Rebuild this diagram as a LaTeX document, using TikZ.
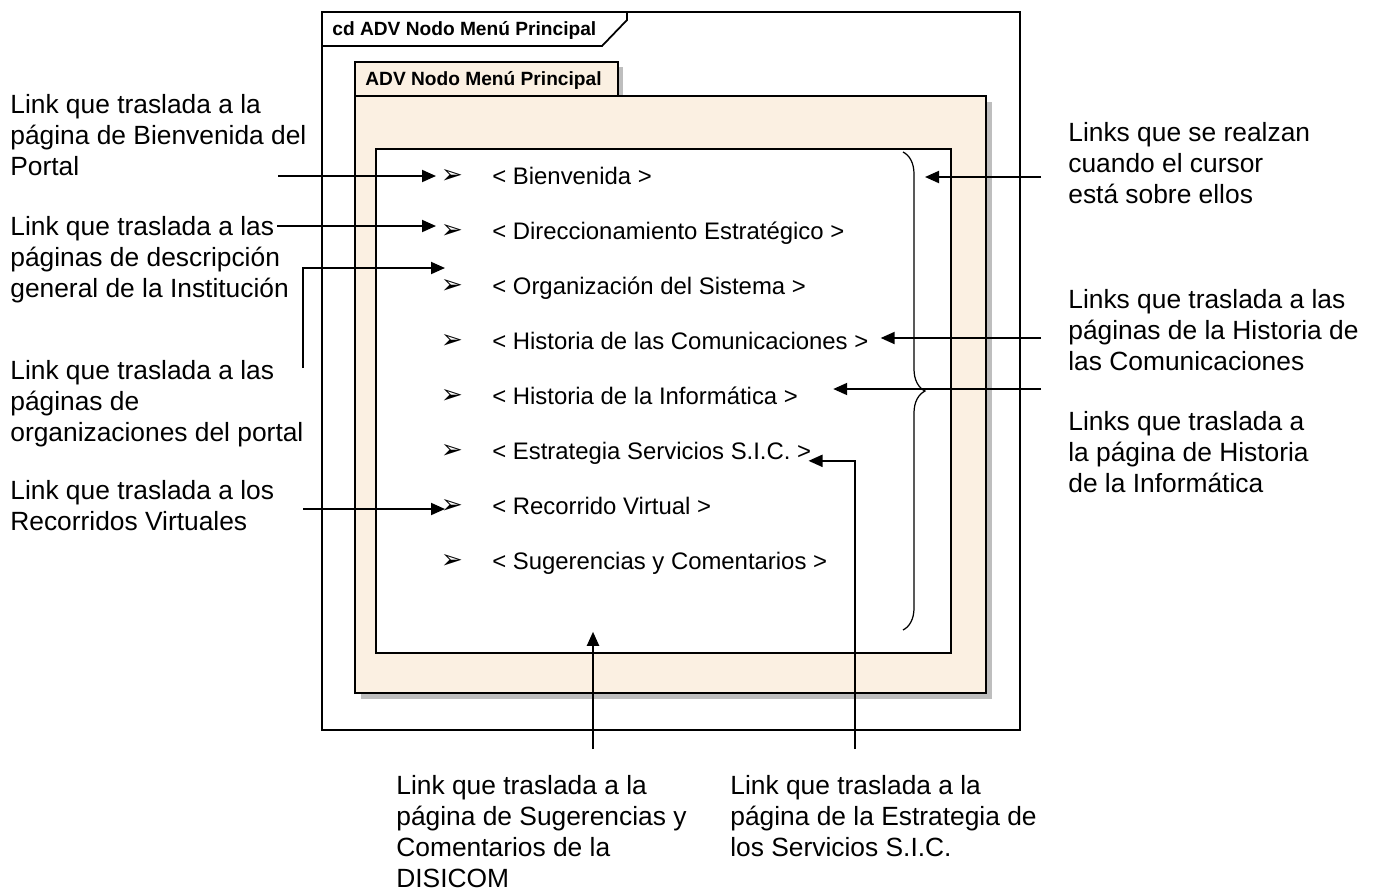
\documentclass[tikz,border=0pt]{standalone}
\usepackage{fontspec}
\setmainfont{Liberation Sans}
\newfontfamily\dingfont{DejaVu Sans}
\usetikzlibrary{arrows.meta,positioning,calc,decorations.pathreplacing}
\definecolor{pkgfill}{RGB}{251,240,226}
\definecolor{pkgshade}{RGB}{190,190,190}

\begin{document}
\begin{tikzpicture}[
    x=0.2mm, y=-0.2mm,
    note/.style={align=left, anchor=north west, inner sep=0pt,
                 font=\fontsize{15pt}{17.6pt}\selectfont},
    item/.style={anchor=base west, inner sep=0pt,
                 font=\fontsize{13.6pt}{16pt}\selectfont},
    bullet/.style={inner sep=0pt, font=\dingfont\fontsize{15pt}{16pt}\selectfont},
    tabtext/.style={anchor=west, inner sep=0pt,
                 font=\bfseries\fontsize{10.9pt}{12pt}\selectfont},
    frame/.style={draw, line width=1pt},
    arrow/.style={-{Triangle[length=2.8mm, width=2.4mm]}, line width=1.1pt}
]
  \useasboundingbox (0,0) rectangle (1380,891);

  % diagram frame
  \draw[frame] (322,12) rectangle (1020,730);
  \draw[frame] (322,46) -- (602,46) -- (627,20) -- (627,12);
  \node[tabtext] (title) at (332,30) {cd ADV Nodo Menú Principal};

  % package
  \fill[pkgshade] (360,67) rectangle (623,100);
  \fill[pkgshade] (361,102) rectangle (992,699);
  \draw[frame, fill=pkgfill] (355,62) rectangle (618,96);
  \draw[frame, fill=pkgfill] (355,96) rectangle (986,693);
  \node[tabtext] (pkgname) at (365,80) {ADV Nodo Menú Principal};
  \node[frame, fill=white, anchor=north west, inner sep=0pt,
        minimum width=115mm, minimum height=100.8mm] (menu) at (375,148) {};

  % menu entries
  \node[bullet] (b1) at (452,176) {➢};
  \node[bullet] (b2) at (452,231) {➢};
  \node[bullet] (b3) at (452,286) {➢};
  \node[bullet] (b4) at (452,341) {➢};
  \node[bullet] (b5) at (452,396) {➢};
  \node[bullet] (b6) at (452,451) {➢};
  \node[bullet] (b7) at (452,506) {➢};
  \node[bullet] (b8) at (452,561) {➢};
  \node[item] (bienv) at (492,184) {< Bienvenida >};
  \node[item] (direcc) at (492,239) {< Direccionamiento Estratégico >};
  \node[item] (organiz) at (492,294) {< Organización del Sistema >};
  \node[item] (histcom) at (492,349) {< Historia de las Comunicaciones >};
  \node[item] (histinf) at (492,404) {< Historia de la Informática >};
  \node[item] (estrat) at (492,459) {< Estrategia Servicios S.I.C. >};
  \node[item] (recorr) at (492,514) {< Recorrido Virtual >};
  \node[item] (suger) at (492,569) {< Sugerencias y Comentarios >};

  \draw[line width=0.7pt, decorate, decoration={brace, amplitude=4.4mm}]
    (903,152) -- (903,630);
  \coordinate (brtop) at (925,177);

  % notes
  \node[note] (nBienv) at (10,94) {Link que traslada a la\\página de Bienvenida del\\Portal};
  \node[note] (nDirecc) at (10,216) {Link que traslada a las\\páginas de descripción\\general de la Institución};
  \node[note] (nOrganiz) at (10,360) {Link que traslada a las\\páginas de\\organizaciones del portal};
  \node[note] (nRecorr) at (10,480) {Link que traslada a los\\Recorridos Virtuales};
  \node[note] (nRealzan) at (1068,122) {Links que se realzan\\cuando el cursor\\está sobre ellos};
  \node[note] (nHistcom) at (1068,289) {Links que traslada a las\\páginas de la Historia de\\las Comunicaciones};
  \node[note] (nHistinf) at (1068,411) {Links que traslada a\\la página de Historia\\de la Informática};
  \node[note] (nSuger) at (396,775) {Link que traslada a la\\página de Sugerencias y\\Comentarios de la\\DISICOM};
  \node[note] (nEstrat) at (730,775) {Link que traslada a la\\página de la Estrategia de\\los Servicios S.I.C.};

  % connectors
  \coordinate (s1) at (278,176);
  \coordinate (s2) at (277,226);
  \coordinate (s3) at (303,368);
  \coordinate (s4) at (303,509);
  \coordinate (s5) at (1041,177);
  \coordinate (s6) at (1041,338);
  \coordinate (s7) at (1041,389);
  \coordinate (s8) at (593,749);
  \coordinate (s9) at (855,749);

  \draw[arrow] (s1) -- ($(s1 -| b1)+(-16,0)$);
  \draw[arrow] (s2) -- ($(s2 -| b2)+(-16,0)$);
  \draw[arrow] (s3) |- ($(b3)+(-7,-18)$);
  \draw[arrow] (s4) -- ($(s4 -| b7)+(-7,0)$);
  \draw[arrow] (s5) -- (brtop);
  \draw[arrow] (s6) -- ($(s6 -| histcom.east)+(12,0)$);
  \draw[arrow] (s7) -- ($(s7 -| histinf.east)+(35,0)$);
  \draw[arrow] (s8) -- ($(s8 |- menu.south)+(0,-22)$);
  \draw[arrow] (s9) |- ($(estrat.east)+(-3,8)$);
\end{tikzpicture}
\end{document}
